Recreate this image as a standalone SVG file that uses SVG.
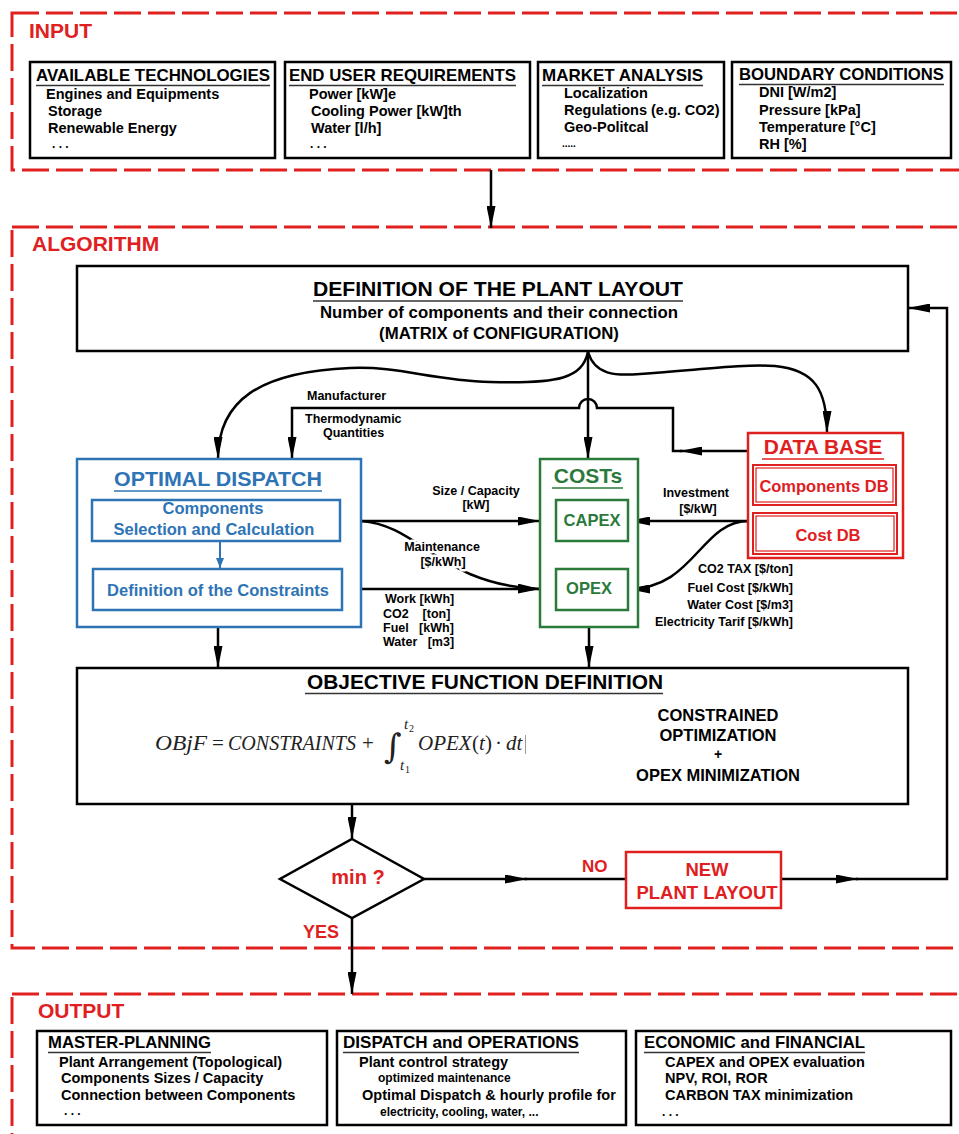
<svg xmlns="http://www.w3.org/2000/svg" width="959" height="1134" viewBox="0 0 959 1134">
<style>
.dash{fill:none;stroke:#e0201f;stroke-width:3;stroke-dasharray:27 7}
.box{fill:#fff;stroke:#000;stroke-width:2.5}
.ln{fill:none;stroke:#000;stroke-width:2.5}
.ul{stroke:#333;stroke-width:1.5}
.f{font-family:"Liberation Sans",Arial,sans-serif}
.b{font-weight:bold}
.ttl{font-family:"Liberation Sans",Arial,sans-serif;font-size:17px;fill:#000;font-weight:bold}
.it{font-family:"Liberation Sans",Arial,sans-serif;font-weight:bold;font-size:14.5px;fill:#000}
.sm{font-family:"Liberation Sans",Arial,sans-serif;font-weight:bold;font-size:12.5px;fill:#000}
.red{fill:#e0201f}
.halo{paint-order:stroke;stroke:#fff;stroke-width:5px;stroke-linejoin:round}
.m{font-family:"Liberation Serif","Times New Roman",serif;font-size:21px;fill:#222}
.i{font-style:italic}
</style>
<defs>
<marker id="ah" markerWidth="22" markerHeight="9" refX="22" refY="4.5" orient="auto" markerUnits="userSpaceOnUse"><path d="M0,0 L22,4.5 L0,9 z" fill="#000"/></marker>
<marker id="ahb" markerWidth="10" markerHeight="8" refX="10" refY="4" orient="auto" markerUnits="userSpaceOnUse"><path d="M0,0 L10,4 L0,8 z" fill="#2e74b5"/></marker>
</defs>
<rect width="959" height="1134" fill="#fff"/>

<!-- section frames -->
<g id="input-frame">
<rect class="dash" x="12" y="13" width="960" height="157"/>
<text class="f b red" x="29" y="38" font-size="21">INPUT</text>
</g>
<g id="algorithm-frame">
<rect class="dash" x="12" y="227" width="960" height="721"/>
<text class="f b red" x="32" y="251" font-size="21">ALGORITHM</text>
</g>
<g id="output-frame">
<rect class="dash" x="12" y="994" width="960" height="160"/>
<text class="f b red" x="38" y="1018" font-size="21">OUTPUT</text>
</g>

<!-- input boxes -->
<g id="available-technologies">
<rect class="box" x="30" y="62" width="245" height="96"/>
<text class="ttl" x="36" y="81" textLength="234" lengthAdjust="spacingAndGlyphs">AVAILABLE TECHNOLOGIES</text>
<line class="ul" x1="36" y1="85.5" x2="270" y2="85.5"/>
<text class="it" x="46" y="99">Engines and Equipments</text>
<text class="it" x="48" y="116">Storage</text>
<text class="it" x="48" y="133">Renewable Energy</text>
<text class="it" x="52" y="148" style="font-size:12px">. . .</text>
</g>
<g id="end-user-requirements">
<rect class="box" x="285" y="62" width="245" height="96"/>
<text class="ttl" x="289" y="81" textLength="227" lengthAdjust="spacingAndGlyphs">END USER REQUIREMENTS</text>
<line class="ul" x1="289" y1="85.5" x2="516" y2="85.5"/>
<text class="it" x="309" y="99">Power [kW]e</text>
<text class="it" x="311" y="116">Cooling Power [kW]th</text>
<text class="it" x="311" y="133">Water [l/h]</text>
<text class="it" x="310" y="148" style="font-size:12px">. . .</text>
</g>
<g id="market-analysis">
<rect class="box" x="538" y="62" width="186" height="96"/>
<text class="ttl" x="542" y="81" textLength="161" lengthAdjust="spacingAndGlyphs">MARKET ANALYSIS</text>
<line class="ul" x1="542" y1="85.5" x2="703" y2="85.5"/>
<text class="it" x="564" y="98">Localization</text>
<text class="it" x="564" y="115">Regulations (e.g. CO2)</text>
<text class="it" x="564" y="132">Geo-Politcal</text>
<text class="it" x="562" y="147" style="font-size:10px">.....</text>
</g>
<g id="boundary-conditions">
<rect class="box" x="732" y="62" width="219" height="96"/>
<text class="ttl" x="739" y="80" textLength="205" lengthAdjust="spacingAndGlyphs">BOUNDARY CONDITIONS</text>
<line class="ul" x1="739" y1="84.5" x2="944" y2="84.5"/>
<text class="it" x="759" y="97">DNI [W/m2]</text>
<text class="it" x="759" y="115">Pressure [kPa]</text>
<text class="it" x="759" y="132">Temperature [°C]</text>
<text class="it" x="759" y="149">RH [%]</text>
</g>

<!-- connectors -->
<g id="connectors">
<path class="ln" d="M491,170 L491,228" marker-end="url(#ah)"/>
<path class="ln" d="M588,352 L588,459" marker-end="url(#ah)"/>
<path class="ln" d="M588,352 C582,378 560,384 490,382 C430,380 400,366 350,368 C260,372 218,400 218,459" marker-end="url(#ah)"/>
<path class="ln" d="M588,352 C595,375 615,376 640,374 C700,370 740,364 775,366 C815,370 827,390 827,433" marker-end="url(#ah)"/>
<path class="ln" d="M748,451 L680,451" marker-end="url(#ah)"/>
<path class="ln" d="M682,451 L673,451 L673,408 L597,408 A9,9 0 0 0 579,408 L292,408 L292,459" marker-end="url(#ah)"/>
<path class="ln" d="M361,521 L540,521" marker-end="url(#ah)"/>
<path class="ln" d="M361,589 L540,589" marker-end="url(#ah)"/>
<path class="ln" d="M361,521 C420,525 440,585 540,589" marker-end="url(#ah)"/>
<path class="ln" d="M749,521 L628,521" marker-end="url(#ah)"/>
<path class="ln" d="M749,521 C700,521 695,589 628,589" marker-end="url(#ah)"/>
<path class="ln" d="M218,627 L218,668" marker-end="url(#ah)"/>
<path class="ln" d="M589,627 L589,668" marker-end="url(#ah)"/>
<path class="ln" d="M352,804 L352,839" marker-end="url(#ah)"/>
<path class="ln" d="M352,918 L352,994" marker-end="url(#ah)"/>
<path class="ln" d="M424,879 L527,879" marker-end="url(#ah)"/>
<path class="ln" d="M525,879 L626,879"/>
<path class="ln" d="M781,879 L858,879" marker-end="url(#ah)"/>
<path class="ln" d="M856,879 L947,879 L947,308 L908,308" marker-end="url(#ah)"/>
</g>

<!-- connector labels -->
<g id="labels">
<text class="sm" x="307" y="400">Manufacturer</text>
<text class="sm" x="305" y="423">Thermodynamic</text>
<text class="sm" x="323" y="437">Quantities</text>
<text class="sm" x="476" y="495" text-anchor="middle">Size / Capacity</text>
<text class="sm" x="476" y="509" text-anchor="middle">[kW]</text>
<text class="sm halo" x="442" y="551" text-anchor="middle">Maintenance</text>
<text class="sm halo" x="443" y="566" text-anchor="middle">[$/kWh]</text>
<text class="sm" x="385" y="603">Work [kWh]</text>
<text class="sm" x="383" y="618" xml:space="preserve">CO2    [ton]</text>
<text class="sm" x="383" y="632" xml:space="preserve">Fuel   [kWh]</text>
<text class="sm" x="383" y="646" xml:space="preserve">Water   [m3]</text>
<text class="sm" x="696" y="497" text-anchor="middle">Investment</text>
<text class="sm" x="698" y="513" text-anchor="middle">[$/kW]</text>
<text class="sm" x="793" y="573" text-anchor="end">CO2 TAX [$/ton]</text>
<text class="sm" x="793" y="592" text-anchor="end">Fuel Cost [$/kWh]</text>
<text class="sm" x="793" y="609" text-anchor="end">Water Cost [$/m3]</text>
<text class="sm" x="793" y="626" text-anchor="end">Electricity Tarif [$/kWh]</text>
<text class="f b red" x="582" y="872" font-size="17">NO</text>
<text class="f b red" x="303" y="938" font-size="18">YES</text>
</g>

<!-- algorithm nodes -->
<g id="plant-layout">
<rect class="box" x="77" y="266" width="831" height="85"/>
<text class="f b" x="498" y="296" font-size="21" text-anchor="middle" textLength="370" lengthAdjust="spacingAndGlyphs">DEFINITION OF THE PLANT LAYOUT</text>
<line class="ul" x1="313" y1="301" x2="683" y2="301"/>
<text class="f b" x="499" y="318" font-size="16.8" text-anchor="middle">Number of components and their connection</text>
<text class="f b" x="499" y="339" font-size="16.8" text-anchor="middle">(MATRIX of CONFIGURATION)</text>
</g>

<g id="optimal-dispatch">
<rect x="77" y="459" width="284" height="168" fill="#fff" stroke="#2e74b5" stroke-width="2.5"/>
<text class="f b" x="218" y="486" font-size="21" fill="#2e74b5" text-anchor="middle" textLength="208" lengthAdjust="spacingAndGlyphs">OPTIMAL DISPATCH</text>
<line x1="114" y1="491" x2="322" y2="491" stroke="#2e74b5" stroke-width="1.5"/>
<rect x="92" y="500" width="248" height="41" fill="#fff" stroke="#2e74b5" stroke-width="2.5"/>
<text class="f b" x="213" y="514" font-size="16.5" fill="#2e74b5" text-anchor="middle">Components</text>
<text class="f b" x="214" y="535" font-size="16.5" fill="#2e74b5" text-anchor="middle">Selection and Calculation</text>
<path d="M220,541 L220,568" stroke="#2e74b5" stroke-width="2" marker-end="url(#ahb)"/>
<rect x="93" y="569" width="249" height="41" fill="#fff" stroke="#2e74b5" stroke-width="2.5"/>
<text class="f b" x="218" y="596" font-size="16.5" fill="#2e74b5" text-anchor="middle">Definition of the Constraints</text>
</g>

<g id="costs">
<rect x="540" y="459" width="98" height="168" fill="#fff" stroke="#2b7a3b" stroke-width="2.5"/>
<text class="f b" x="588" y="483" font-size="21" fill="#2b7a3b" text-anchor="middle">COSTs</text>
<line x1="552" y1="488" x2="623" y2="488" stroke="#2b7a3b" stroke-width="1.5"/>
<rect x="556" y="500" width="72" height="41" fill="#fff" stroke="#2b7a3b" stroke-width="2.5"/>
<text class="f b" x="592" y="526" font-size="16.5" fill="#2b7a3b" text-anchor="middle">CAPEX</text>
<rect x="556" y="569" width="72" height="41" fill="#fff" stroke="#2b7a3b" stroke-width="2.5"/>
<text class="f b" x="589" y="594" font-size="16.5" fill="#2b7a3b" text-anchor="middle">OPEX</text>
</g>

<g id="data-base">
<rect x="748" y="433" width="155" height="125" fill="#fff" stroke="#e0201f" stroke-width="2.5"/>
<text class="f b red" x="823" y="454" font-size="21" text-anchor="middle">DATA BASE</text>
<line x1="762" y1="459" x2="884" y2="459" stroke="#e0201f" stroke-width="1.5"/>
<rect x="753" y="465" width="143" height="40" fill="#fff" stroke="#e0201f" stroke-width="2"/>
<rect x="756" y="468" width="137" height="34" fill="none" stroke="#e0201f" stroke-width="1.2"/>
<text class="f b red" x="824" y="492" font-size="16.5" text-anchor="middle">Components DB</text>
<rect x="753" y="513" width="144" height="41" fill="#fff" stroke="#e0201f" stroke-width="2"/>
<rect x="756" y="516" width="138" height="35" fill="none" stroke="#e0201f" stroke-width="1.2"/>
<text class="f b red" x="828" y="541" font-size="16.5" text-anchor="middle">Cost DB</text>
</g>

<g id="objective-function">
<rect class="box" x="77" y="668" width="831" height="136"/>
<text class="f b" x="485" y="689" font-size="21" text-anchor="middle" textLength="356" lengthAdjust="spacingAndGlyphs">OBJECTIVE FUNCTION DEFINITION</text>
<line class="ul" x1="305" y1="693.5" x2="663" y2="693.5"/>
<text class="m i" x="155" y="750" textLength="52" lengthAdjust="spacingAndGlyphs">OBjF</text>
<text class="m" x="212" y="750">=</text>
<text class="m i" x="228" y="750" style="font-size:20.5px" textLength="128" lengthAdjust="spacingAndGlyphs">CONSTRAINTS</text>
<text class="m" x="362" y="750">+</text>
<text x="384" y="758" font-family="'DejaVu Serif',serif" font-size="34" font-style="italic" fill="#222">∫</text>
<text class="m i" x="404" y="729" style="font-size:15px">t</text>
<text class="m" x="409" y="732" style="font-size:10px">2</text>
<text class="m i" x="400" y="770" style="font-size:15px">t</text>
<text class="m" x="405" y="773" style="font-size:10px">1</text>
<text class="m i" x="418" y="750">OPEX</text>
<text class="m" x="472" y="750">(</text>
<text class="m i" x="479" y="750">t</text>
<text class="m" x="485" y="750">)</text>
<text class="m" x="495" y="750">·</text>
<text class="m i" x="506" y="750">dt</text>
<line x1="525.5" y1="735" x2="525.5" y2="754" stroke="#999" stroke-width="1"/>
<text class="f b" x="718" y="721" font-size="16.5" text-anchor="middle">CONSTRAINED</text>
<text class="f b" x="718" y="741" font-size="16.5" text-anchor="middle">OPTIMIZATION</text>
<text class="f b" x="718" y="759" font-size="14" text-anchor="middle">+</text>
<text class="f b" x="718" y="781" font-size="16.5" text-anchor="middle">OPEX MINIMIZATION</text>
</g>

<g id="min-decision">
<polygon points="352,839 424,879 352,918 280,879" fill="#fff" stroke="#000" stroke-width="2.5"/>
<text class="f b red" x="358" y="884" font-size="20" text-anchor="middle">min ?</text>
</g>

<g id="new-plant-layout">
<rect x="626" y="852" width="155" height="56" fill="#fff" stroke="#e0201f" stroke-width="2.5"/>
<text class="f b red" x="707" y="876" font-size="18.5" text-anchor="middle">NEW</text>
<text class="f b red" x="707" y="899" font-size="18.5" text-anchor="middle">PLANT LAYOUT</text>
</g>

<!-- output boxes -->
<g id="master-planning">
<rect class="box" x="37" y="1031" width="290" height="94"/>
<text class="ttl" x="48" y="1048" textLength="163" lengthAdjust="spacingAndGlyphs">MASTER-PLANNING</text>
<line class="ul" x1="48" y1="1052.5" x2="211" y2="1052.5"/>
<text class="it" x="59" y="1067">Plant Arrangement (Topological)</text>
<text class="it" x="61" y="1083">Components Sizes / Capacity</text>
<text class="it" x="61" y="1100">Connection between Components</text>
<text class="it" x="64" y="1115" style="font-size:12px">. . .</text>
</g>
<g id="dispatch-operations">
<rect class="box" x="337" y="1031" width="289" height="94"/>
<text class="ttl" x="343" y="1048" textLength="236" lengthAdjust="spacingAndGlyphs">DISPATCH and OPERATIONS</text>
<line class="ul" x1="343" y1="1052.5" x2="579" y2="1052.5"/>
<text class="it" x="359" y="1067">Plant control strategy</text>
<text class="sm" x="378" y="1082" style="font-size:12px">optimized maintenance</text>
<text class="it" x="362" y="1100">Optimal Dispatch &amp; hourly profile for</text>
<text class="sm" x="380" y="1116" style="font-size:12px">electricity, cooling, water, ...</text>
</g>
<g id="economic-financial">
<rect class="box" x="636" y="1031" width="315" height="94"/>
<text class="ttl" x="644" y="1048" textLength="221" lengthAdjust="spacingAndGlyphs">ECONOMIC and FINANCIAL</text>
<line class="ul" x1="644" y1="1052.5" x2="865" y2="1052.5"/>
<text class="it" x="665" y="1067">CAPEX and OPEX evaluation</text>
<text class="it" x="665" y="1083">NPV, ROI, ROR</text>
<text class="it" x="665" y="1100">CARBON TAX minimization</text>
<text class="it" x="662" y="1116" style="font-size:12px">. . .</text>
</g>
</svg>
